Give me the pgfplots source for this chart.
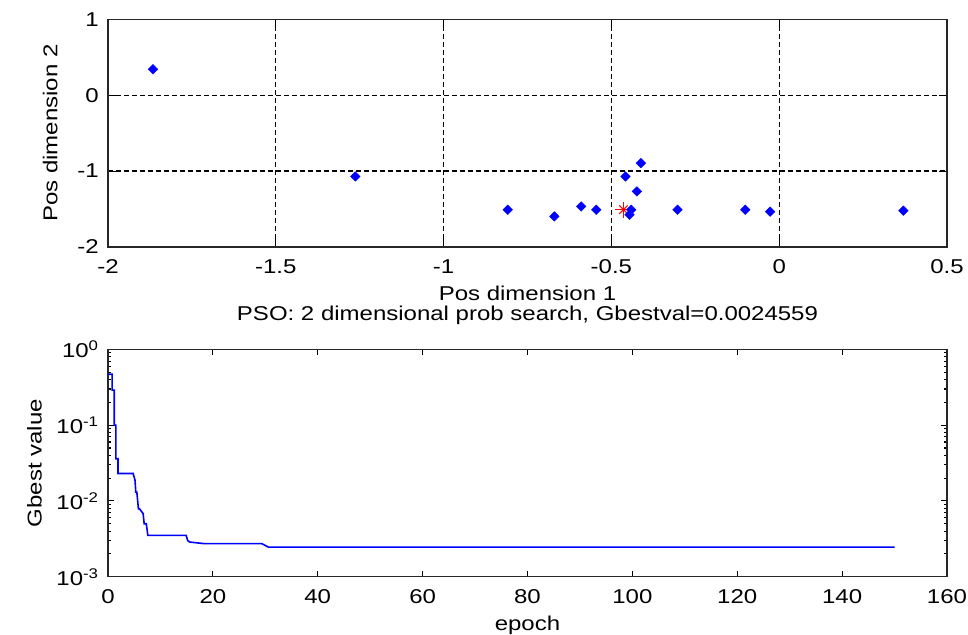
\documentclass[border=0pt]{standalone}
\usepackage{pgfplots}
\pgfplotsset{compat=1.18}
\usepackage{fontspec}
\setmainfont{Liberation Sans}[FakeStretch=1.2]
\newcommand{\axfont}{\fontsize{15pt}{18pt}\selectfont}
\pgfplotsset{matlab/.style={
  scale only axis,
  font=\axfont,
  axis line style={line width=1pt, black!85},
  tick style={line width=0.8pt, black},
  tick align=inside,
  /pgf/number format/assume math mode=true,
  xticklabel style={anchor=base, yshift=-19.9pt, inner sep=0pt},
  yticklabel style={anchor=east, inner sep=0pt, xshift=-6.75pt},
}}
\begin{document}
\begin{tikzpicture}
\path[use as bounding box] (0,0) rectangle (726pt,476.25pt);
\begin{axis}[matlab,
  at={(81pt,291pt)}, anchor=south west,
  width=629.25pt, height=170.8pt,
  xmin=-2, xmax=0.5, ymin=-2, ymax=1,
  xtick={-2,-1.5,-1,-0.5,0,0.5}, ytick={-2,-1,0,1},
  major tick length=6pt,
  grid=major,
  grid style={black, line width=0.9pt, dash pattern=on 3.5pt off 2.5pt},
  xlabel={Pos dimension 1},
  ylabel={Pos dimension 2},
  xlabel style={at={(axis description cs:0.5,-0.235)}, anchor=base, inner sep=0pt},
  ylabel style={at={(axis description cs:-0.0602,0.5)}, anchor=base, inner sep=0pt},
]
\addplot[only marks, red, mark=+, mark size=6pt, line width=0.8pt] coordinates {(-0.464,-1.509)};
\addplot[only marks, red, mark=x, mark size=4.5pt, line width=0.8pt] coordinates {(-0.464,-1.509)};
\addplot[only marks, blue, mark=square*, mark size=2.5pt, mark options={rotate=45, blue}] coordinates {
(-1.866,0.342)
(-1.263,-1.071)
(-0.809,-1.509)
(-0.670,-1.597)
(-0.590,-1.466)
(-0.545,-1.509)
(-0.458,-1.071)
(-0.412,-0.895)
(-0.424,-1.268)
(-0.441,-1.509)
(-0.446,-1.575)
(-0.303,-1.509)
(-0.101,-1.509)
(-0.027,-1.535)
(0.370,-1.522)
};
\end{axis}
\begin{axis}[matlab,
  at={(81pt,43.7pt)}, anchor=south west,
  width=629.25pt, height=170.5pt,
  xmin=0, xmax=160, ymin=1e-3, ymax=1, ymode=log,
  xtick={0,20,40,60,80,100,120,140,160},
  ytick={1e-3,1e-2,1e-1,1},
  yticklabels={10\textsuperscript{-3},10\textsuperscript{-2},10\textsuperscript{-1},10\textsuperscript{0}},
  minor ytick={2e-3,3e-3,4e-3,5e-3,6e-3,7e-3,8e-3,9e-3,2e-2,3e-2,4e-2,5e-2,6e-2,7e-2,8e-2,9e-2,2e-1,3e-1,4e-1,5e-1,6e-1,7e-1,8e-1,9e-1},
  major tick length=4.5pt,
  minor tick length=2.6pt,
  xlabel={epoch},
  ylabel={Gbest value},
  title={PSO: 2 dimensional prob search, Gbestval=0.0024559},
  title style={at={(axis description cs:0.5,1.094)}, anchor=base, inner sep=0pt},
  xlabel style={at={(axis description cs:0.5,-0.2344)}, anchor=base, inner sep=0pt},
  ylabel style={at={(axis description cs:-0.079,0.5)}, anchor=base, inner sep=0pt},
]
\addplot[blue, line width=1.2pt] coordinates {
(0,0.47)
(0.8,0.47)
(0.8,0.29)
(1.2,0.29)
(1.2,0.10)
(1.5,0.10)
(1.5,0.036)
(1.9,0.036)
(1.9,0.023)
(4.8,0.023)
(5.15,0.0188)
(5.3,0.0131)
(5.5,0.0131)
(5.8,0.0079)
(6.0,0.0079)
(6.7,0.0068)
(6.9,0.0050)
(7.3,0.0050)
(7.6,0.00352)
(14.9,0.00352)
(15.2,0.0030)
(15.6,0.00287)
(18.2,0.00274)
(29.3,0.00274)
(30.6,0.0024559)
(150,0.0024559)
};
\end{axis}
\end{tikzpicture}
\end{document}
